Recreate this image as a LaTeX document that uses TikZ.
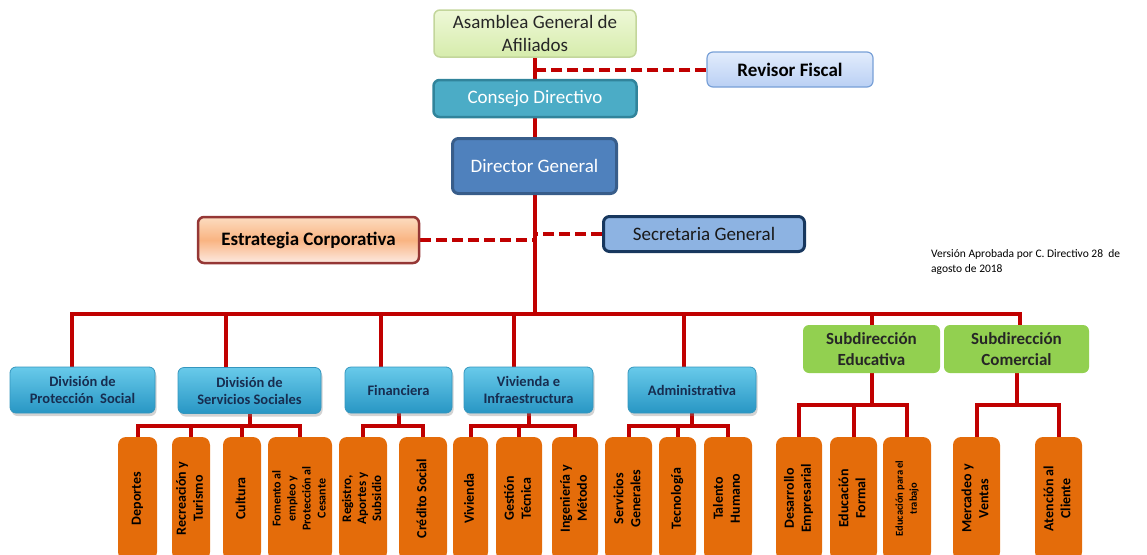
\documentclass[tikz,border=0pt]{standalone}
\usepackage{fontspec}
\setmainfont{Carlito}
\usetikzlibrary{positioning, backgrounds, shadows}

\definecolor{LineRed}{RGB}{192, 0, 0}
\definecolor{AsamTop}{RGB}{238, 248, 215}
\definecolor{AsamBot}{RGB}{214, 236, 172}
\definecolor{AsamEdge}{RGB}{195, 214, 155}
\definecolor{RevTop}{RGB}{226, 236, 252}
\definecolor{RevBot}{RGB}{186, 208, 244}
\definecolor{RevEdge}{RGB}{120, 160, 215}
\definecolor{ConsFill}{RGB}{75, 172, 198}
\definecolor{ConsEdge}{RGB}{49, 132, 155}
\definecolor{DirFill}{RGB}{79, 129, 189}
\definecolor{DirEdge}{RGB}{56, 93, 138}
\definecolor{EstTop}{RGB}{252, 220, 192}
\definecolor{EstMid}{RGB}{249, 180, 130}
\definecolor{EstBot}{RGB}{253, 234, 226}
\definecolor{EstEdge}{RGB}{149, 55, 53}
\definecolor{SecFill}{RGB}{141, 179, 226}
\definecolor{SecEdge}{RGB}{23, 55, 94}
\definecolor{DivTop}{RGB}{104, 202, 234}
\definecolor{DivBot}{RGB}{40, 150, 196}
\definecolor{DivEdge}{RGB}{52, 150, 190}
\definecolor{DivText}{RGB}{23, 45, 80}
\definecolor{SubGreen}{RGB}{146, 208, 80}
\definecolor{LeafOrange}{RGB}{228, 108, 10}

\tikzset{
  box/.style={rounded corners=6pt, align=center, inner sep=2pt},
  division/.style={box, draw=DivEdge, line width=0.8pt, top color=DivTop, bottom color=DivBot,
    minimum height=46pt, text=DivText, font=\fontsize{14.5}{17}\selectfont\bfseries,
    drop shadow={opacity=0.35, shadow xshift=1.5pt, shadow yshift=-3pt}},
  subdir/.style={box, fill=SubGreen, minimum height=48pt, text=black!85,
    font=\fontsize{17}{21}\selectfont\bfseries},
  leaf/.style={rounded corners=8pt, fill=LeafOrange, minimum height=123pt, inner sep=0pt,
    text=black, font=\fontsize{14}{17}\selectfont\bfseries},
  link/.style={draw=LineRed, line width=4pt},
  dashlink/.style={link, dash pattern=on 11pt off 5pt},
}
\newcommand{\vlabel}[1]{\rotatebox{90}{\begin{tabular}{@{}c@{}}#1\end{tabular}}}

\begin{document}
\begin{tikzpicture}[x=1pt, y=-1pt]
\useasboundingbox (0,0) rectangle (1147,554);
\clip (0,0) rectangle (1147,554);

% top of the chart
\node[box, draw=AsamEdge, line width=1.5pt, top color=AsamTop, bottom color=AsamBot, minimum width=202pt, minimum height=47pt, text=black!85, font=\fontsize{19}{23}\selectfont] (asamblea) at (535,33.5) {Asamblea General de\\Afiliados};
\node[box, draw=RevEdge, line width=1.2pt, top color=RevTop, bottom color=RevBot, minimum width=166pt, minimum height=35pt, font=\fontsize{19}{23}\selectfont\bfseries] (revisor) at (790,69.5) {Revisor Fiscal};
\node[box, draw=ConsEdge, line width=2.5pt, fill=ConsFill, minimum width=203pt, minimum height=37pt, text=white, font=\fontsize{19}{23}\selectfont] (consejo) at (535,98.5) {Consejo Directivo};
\node[box, draw=DirEdge, line width=3pt, fill=DirFill, minimum width=164pt, minimum height=55pt, text=white, font=\fontsize{19}{23}\selectfont] (director) at (534.5,166) {Director General};
\node[box, draw=EstEdge, line width=2.5pt, top color=EstTop, bottom color=EstBot, middle color=EstMid, minimum width=221pt, minimum height=46pt, font=\fontsize{19}{23}\selectfont\bfseries] (estrategia) at (308.5,240) {Estrategia Corporativa};
\node[box, draw=SecEdge, line width=3pt, fill=SecFill, minimum width=201pt, minimum height=35pt, text=black!90, font=\fontsize{19}{23}\selectfont] (secretaria) at (704,234) {Secretaria General};
\node[anchor=north west, align=left, inner sep=0pt, font=\fontsize{11.5}{15}\selectfont] (version) at (931,249) {Versión Aprobada por C. Directivo 28\ \ de\\agosto de 2018};

% divisiones y subdirecciones
\node[division, minimum width=145pt] (proteccion) at (82.5,390) {División de\\Protección\hspace{0.45em}Social};
\node[division, minimum width=143pt] (servicios) at (249.5,390.5) {División de\\Servicios Sociales};
\node[division, minimum width=107pt] (financiera) at (398.5,390) {Financiera};
\node[division, minimum width=129pt] (vivienda) at (528.5,390) {Vivienda e\\Infraestructura};
\node[division, minimum width=128pt] (administrativa) at (692,390) {Administrativa};
\node[subdir, minimum width=137pt] (educativa) at (871.5,349) {Subdirección\\Educativa};
\node[subdir, minimum width=145pt] (comercial) at (1016.5,349) {Subdirección\\Comercial};

% areas
\node[leaf, minimum width=39pt] (deportes) at (137.5,498.5) {\vlabel{Deportes}};
\node[leaf, minimum width=38pt] (recreacion) at (191,498.5) {\vlabel{Recreación y\\Turismo}};
\node[leaf, minimum width=38pt] (cultura) at (242,498.5) {\vlabel{Cultura}};
\node[leaf, minimum width=64pt, font=\fontsize{12}{15}\selectfont\bfseries] (fomento) at (300,498.5) {\vlabel{Fomento al\\empleo y\\Protección al\\Cesante}};
\node[leaf, minimum width=48pt, font=\fontsize{13}{15}\selectfont\bfseries] (registro) at (363,498.5) {\vlabel{Registro,\\Aportes y\\Subsidio}};
\node[leaf, minimum width=48pt] (credito) at (423,498.5) {\vlabel{Crédito Social}};
\node[leaf, minimum width=35pt] (viv) at (470.5,498.5) {\vlabel{Vivienda}};
\node[leaf, minimum width=46pt] (gestion) at (519,498.5) {\vlabel{Gestión\\Técnica}};
\node[leaf, minimum width=46pt] (ingenieria) at (575,498.5) {\vlabel{Ingeniería y\\Método}};
\node[leaf, minimum width=47pt] (servgen) at (628.5,498.5) {\vlabel{Servicios\\Generales}};
\node[leaf, minimum width=37pt] (tecnologia) at (677.5,498.5) {\vlabel{Tecnología}};
\node[leaf, minimum width=48pt] (talento) at (728,498.5) {\vlabel{Talento\\Humano}};
\node[leaf, minimum width=46pt] (desarrollo) at (799,498.5) {\vlabel{Desarrollo\\Empresarial}};
\node[leaf, minimum width=47pt] (formal) at (853.5,498.5) {\vlabel{Educación\\Formal}};
\node[leaf, minimum width=48pt, font=\fontsize{10.5}{14}\selectfont\bfseries] (trabajo) at (907,498.5) {\vlabel{Educación para el\\trabajo}};
\node[leaf, minimum width=47pt] (mercadeo) at (976.5,498.5) {\vlabel{Mercadeo y\\Ventas}};
\node[leaf, minimum width=47pt] (atencion) at (1058.5,498.5) {\vlabel{Atención al\\Cliente}};

% junctions
\coordinate (hub) at (535,314);
\coordinate (b1) at (72,314);
\coordinate (b2) at (226,314);
\coordinate (b3) at (381,314);
\coordinate (b4) at (514,314);
\coordinate (b5) at (684,314);
\coordinate (b6) at (872,314);
\coordinate (b7) at (1020,314);
\coordinate (jserv) at (249.5,426);
\coordinate (jfin) at (398.5,426);
\coordinate (jviv) at (528.5,426);
\coordinate (jadm) at (692,426);
\coordinate (jedu) at (871.5,405);
\coordinate (jcom) at (1016.5,405);

\begin{scope}[on background layer]
\draw[link] (asamblea.south) -- (hub);
\draw[dashlink] (revisor.west) -- (revisor.west -| hub);
\draw[dashlink] (estrategia.east) -- (estrategia.east -| hub);
\draw[dashlink] (secretaria.west) -- (secretaria.west -| hub);
\draw[link] (b1 |- proteccion.north) -- (b1) -- (b7) -- (b7 |- comercial.north);
\foreach \b/\n in {b2/servicios, b3/financiera, b4/vivienda, b5/administrativa, b6/educativa}
  \draw[link] (\b) -- (\b |- \n.north);
% ramas inferiores
\draw[link] (servicios.south) -- (jserv);
\draw[link] (deportes.north) |- (jserv) -| (fomento.north);
\draw[link] (financiera.south) -- (jfin);
\draw[link] (registro.north) |- (jfin) -| (credito.north);
\draw[link] (vivienda.south) -- (jviv);
\draw[link] (viv.north) |- (jviv) -| (ingenieria.north);
\draw[link] (administrativa.south) -- (jadm);
\draw[link] (servgen.north) |- (jadm) -| (talento.north);
\draw[link] (educativa.south) -- (jedu);
\draw[link] (desarrollo.north) |- (jedu) -| (trabajo.north);
\draw[link] (comercial.south) -- (jcom);
\draw[link] (mercadeo.north) |- (jcom) -| (atencion.north);
\foreach \n/\j in {recreacion/jserv, cultura/jserv, gestion/jviv, tecnologia/jadm, formal/jedu}
  \draw[link] (\n.north) -- (\n.north |- \j);
\end{scope}
\end{tikzpicture}
\end{document}
